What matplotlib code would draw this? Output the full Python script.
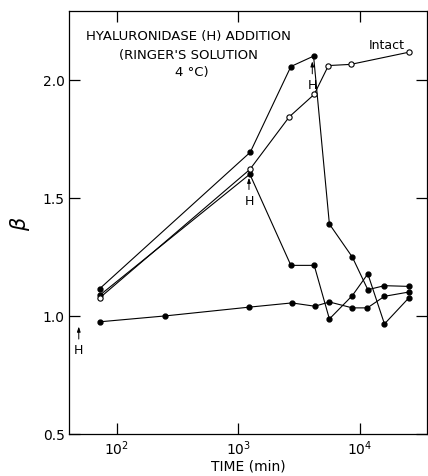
# Grafica de beta contra tiempo con adicion de hialuronidasa (H)
import numpy as np
import matplotlib
matplotlib.use("Agg")
import matplotlib.pyplot as plt

# Datos (tiempo en minutos, beta adimensional)
t_intacto = [72, 1240, 2620, 4200, 5500, 8400, 25500]
b_intacto = [1.076, 1.62, 1.843, 1.938, 2.06, 2.065, 2.117]

# H agregada cerca de 4000 min
t_serieA = [72, 1250, 2700, 4150, 5600, 8650, 11600, 15900, 25200]
b_serieA = [1.115, 1.693, 2.056, 2.10, 1.389, 1.249, 1.111, 1.128, 1.125]

# H agregada cerca de 1200 min
t_serieB = [72, 1240, 2700, 4200, 5600, 8650, 11600, 15900, 25200]
b_serieB = [1.087, 1.60, 1.214, 1.214, 0.987, 1.086, 1.178, 0.966, 1.076]

# H agregada al inicio
t_serieC = [72, 250, 1220, 2750, 4250, 5600, 8650, 11500, 15900, 25200]
b_serieC = [0.975, 1.0, 1.037, 1.055, 1.041, 1.059, 1.034, 1.034, 1.083, 1.101]

# Marcas de la adicion de H: (tiempo, beta del texto, beta de la punta)
marcas_H = [(48.5, 0.857, 0.955), (1220, 1.49, 1.585), (4050, 1.98, 2.078)]

fig = plt.figure(figsize=(4.28, 4.77), dpi=100, facecolor='w')
ax = fig.add_axes([69/428, 42/477, 358/428, 423/477])

estilo = dict(color='k', lw=0.8)
ax.plot(t_serieC, b_serieC, marker='o', ms=3.5, mfc='k', mec='k', **estilo)
ax.plot(t_serieB, b_serieB, marker='o', ms=3.5, mfc='k', mec='k', **estilo)
ax.plot(t_serieA, b_serieA, marker='o', ms=3.5, mfc='k', mec='k', **estilo)
ax.plot(t_intacto, b_intacto, marker='o', ms=3.8, mfc='w', mec='k', mew=0.8, **estilo)

# Flechas de la H
for tx, by, bp in marcas_H:
    ax.annotate('', xy=(tx, bp), xytext=(tx, by + 0.045),
                arrowprops=dict(arrowstyle='-|>,head_length=0.3,head_width=0.1',
                                color='k', lw=0.7, shrinkA=0, shrinkB=0))
    ax.text(tx, by, 'H', ha='center', va='center', fontsize=9)

ax.text(16700, 2.15, 'Intact', ha='center', va='center', fontsize=9)

ax.text(0.335, 0.941, 'HYALURONIDASE (H) ADDITION', transform=ax.transAxes,
        ha='center', va='center', fontsize=9.5)
ax.text(0.335, 0.898, "(RINGER'S SOLUTION", transform=ax.transAxes,
        ha='center', va='center', fontsize=9.5)
ax.text(0.343, 0.856, '4 °C)', transform=ax.transAxes,
        ha='center', va='center', fontsize=9.5)

# Ejes
ax.set_xscale('log')
ax.set_xlim(40.3, 35600)
ax.set_ylim(0.5, 2.291)
ax.set_xticks([1e2, 1e3, 1e4])
ax.set_xticklabels([r'$10^2$', r'$10^3$', r'$10^4$'])
ax.xaxis.set_minor_locator(matplotlib.ticker.NullLocator())
ax.set_yticks([0.5, 1.0, 1.5, 2.0])
ax.set_yticklabels(['0.5', '1.0', '1.5', '2.0'])
ax.tick_params(which='both', direction='in', top=True, right=True,
               length=8, width=0.9, labelsize=10, pad=3)
for lado in ax.spines.values():
    lado.set_linewidth(0.9)

ax.set_xlabel('TIME (min)', fontsize=10, labelpad=1)
ax.set_ylabel(r'$\beta$', fontsize=15, labelpad=8)

plt.savefig('out.png', dpi=100)
plt.close()
